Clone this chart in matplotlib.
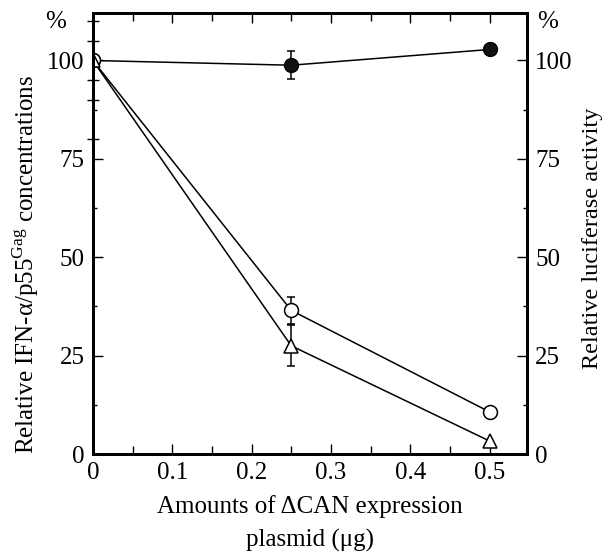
import matplotlib
matplotlib.use('Agg')
from matplotlib import pyplot as plt

plt.rcParams['font.family'] = ['Liberation Serif', 'DejaVu Serif']
plt.rcParams['mathtext.fontset'] = 'custom'
plt.rcParams['mathtext.rm'] = 'Liberation Serif'

# data
dose = [0, 0.25, 0.5]
luc = [100, 98.8, 102.8]
luc_err = [0, 3.5, 0]
ifn = [100, 36.5, 10.7]
ifn_err = [0, 3.5, 0]
p55 = [100, 27.5, 3.3]
p55_err = [0, 5.2, 0]

fig = plt.figure(figsize=(6.07, 5.53), dpi=100)
ax = fig.add_axes([0.153, 0.179, 0.715, 0.797])

common = dict(color='black', lw=1.1, ms=10, capsize=3, elinewidth=1.1, capthick=1.1)
ax.errorbar(dose, luc, yerr=luc_err, marker='o', mfc='#111111', mec='black', **common)
ax.errorbar(dose, ifn, yerr=ifn_err, marker='o', mfc='white', mec='black', mew=1.1, **common)
ax.errorbar(dose, p55, yerr=p55_err, marker='^', mfc='white', mec='black', mew=1.1, **common)

ax.set_xlim(0, 0.547)
ax.set_ylim(0, 112)
ax.set_xticks([0, 0.1, 0.2, 0.3, 0.4, 0.5])
ax.set_xticklabels(['0', '0.1', '0.2', '0.3', '0.4', '0.5'])
ax.set_xticks([0.05, 0.15, 0.25, 0.35, 0.45], minor=True)
ax.set_yticks([0, 25, 50, 75, 100])
ax.set_yticks([12.5, 37.5, 62.5, 87.5], minor=True)

for s in ax.spines.values():
    s.set_linewidth(2)

ax.tick_params(which='major', direction='in', length=7, width=1, labelsize=18,
               top=True, right=False, pad=6)
ax.tick_params(which='minor', direction='in', length=3, width=1, top=True, right=False)
ax.tick_params(axis='x', which='minor', length=6)

# extra crossing ticks seen on the left spine near the top
sec = ax.secondary_yaxis('left')
sec.set_yticks([80, 90, 95, 105, 110])
sec.set_yticklabels([])
sec.tick_params(direction='inout', length=9, width=1)
sec.spines['left'].set_visible(False)

ax2 = ax.twinx()
ax2.set_ylim(ax.get_ylim())
ax2.set_yticks([0, 25, 50, 75, 100])
ax2.set_yticks([12.5, 37.5, 62.5, 87.5], minor=True)
ax2.tick_params(which='major', direction='in', length=7, width=1, labelsize=18, pad=6)
ax2.tick_params(which='minor', direction='in', length=3, width=1)
for s in ax2.spines.values():
    s.set_linewidth(2)

ax.set_ylabel('Relative IFN-\u03b1/p55$^{\\rm Gag}$ concentrations', fontsize=18)
ax.yaxis.set_label_coords(-0.12, 0.43)
ax2.set_ylabel('Relative luciferase activity', fontsize=17.5)
ax2.yaxis.set_label_coords(1.128, 0.49)
ax.set_xlabel('Amounts of \u0394CAN expression\nplasmid (\u03bcg)', fontsize=18,
              labelpad=8, linespacing=1.6)

fig.text(0.092, 0.96, '%', fontsize=18, ha='center', va='center')
fig.text(0.902, 0.96, '%', fontsize=18, ha='center', va='center')

fig.savefig('out.png', dpi=100)
